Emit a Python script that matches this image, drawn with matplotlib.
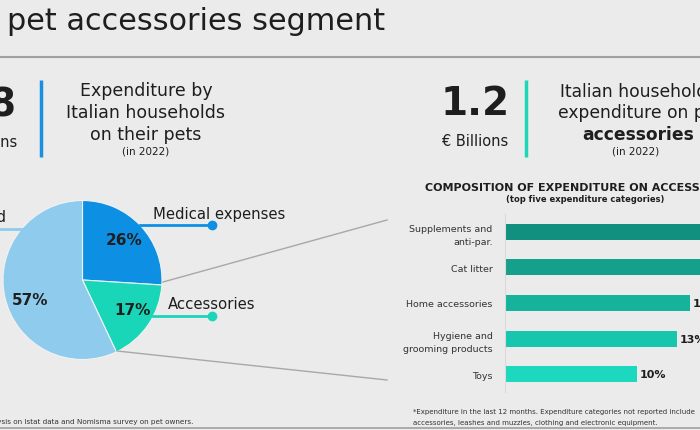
import matplotlib
matplotlib.use("Agg")
import matplotlib.pyplot as plt

plt.rcParams['font.family'] = ['DejaVu Sans']

# ---- data ----
pie_labels = ["Medical expenses", "Accessories", "Food"]
pie_values = [26, 17, 57]
pie_colors = ["#0D8FE3", "#1AD6B8", "#8FCBEC"]

bar_categories = ["Supplements and\nanti-par.", "Cat litter", "Home accessories",
                  "Hygiene and\ngrooming products", "Toys"]
bar_values = [18, 16, 14, 13, 10]
bar_colors = ["#12907F", "#15A08C", "#16B39C", "#18C6AD", "#1CD8BE"]

BG = "#EBEBEB"
TXT = "#1E1E1E"
W, H = 700, 431

fig = plt.figure(figsize=(7, 4.31), dpi=100, facecolor=BG)

# overlay in pixel coordinates (top-left origin)
ov = fig.add_axes([0, 0, 1, 1], zorder=0)
ov.set_xlim(0, W); ov.set_ylim(H, 0); ov.axis('off')
ov.patch.set_alpha(0)

# header
ov.text(7, 30, "pet accessories segment", fontsize=21.8, color=TXT, ha='left', va='baseline')
ov.plot([0, W], [58, 58], color="#A0A0A0", lw=1.5)
ov.plot([0, W], [429, 429], color="#A0A0A0", lw=1.2)

# left KPI block
ov.text(-18, 117, "3.8", fontsize=28, fontweight='bold', color=TXT, ha='center', va='baseline')
ov.text(-16, 147, "€ Billions", fontsize=10.5, color=TXT, ha='center', va='baseline')
ov.plot([41, 41], [81, 158], color="#1A8FE0", lw=2.5, solid_capstyle='butt')
for yb, s in [(96, "Expenditure by"), (118, "Italian households"), (140, "on their pets")]:
    ov.text(146, yb, s, fontsize=12.5, color=TXT, ha='center', va='baseline')
ov.text(146, 155, "(in 2022)", fontsize=7.5, color=TXT, ha='center', va='baseline')

# right KPI block
ov.text(475, 115, "1.2", fontsize=28, fontweight='bold', color=TXT, ha='center', va='baseline')
ov.text(475, 146, "€ Billions", fontsize=10.5, color=TXT, ha='center', va='baseline')
ov.plot([526, 526], [81, 158], color="#1DD6B8", lw=2.5, solid_capstyle='butt')
ov.text(640, 97, "Italian households'", fontsize=12.3, color=TXT, ha='center', va='baseline')
ov.text(640, 118, "expenditure on pet", fontsize=12.3, color=TXT, ha='center', va='baseline')
ov.text(638, 140, "accessories", fontsize=12.3, fontweight='bold', color=TXT, ha='center', va='baseline')
ov.text(636, 155, "(in 2022)", fontsize=7.5, color=TXT, ha='center', va='baseline')

# pie leader lines
ov.plot([140, 212], [226, 226], color=pie_colors[0], lw=2)
ov.plot([212], [226], 'o', color=pie_colors[0], ms=6)
ov.plot([153, 212], [317, 317], color=pie_colors[1], lw=2)
ov.plot([212], [317], 'o', color=pie_colors[1], ms=6)
ov.plot([0, 22], [230, 230], color=pie_colors[2], lw=2)
ov.text(153, 219, pie_labels[0], fontsize=10.7, color=TXT, ha='left', va='baseline')
ov.text(168, 309, pie_labels[1], fontsize=10.7, color=TXT, ha='left', va='baseline')
ov.text(6, 222, pie_labels[2], fontsize=10.7, color=TXT, ha='right', va='baseline')

# connector lines
ov.plot([163, 387], [283, 221], color="#A8A8A8", lw=1)
ov.plot([117, 387], [352, 381], color="#A8A8A8", lw=1)

# bar chart titles
ov.text(425, 191, "COMPOSITION OF EXPENDITURE ON ACCESSORIES*", fontsize=8.0,
        fontweight='bold', color=TXT, ha='left', va='baseline')
ov.text(585, 202, "(top five expenditure categories)", fontsize=6.0,
        fontweight='bold', color=TXT, ha='center', va='baseline')

# footnotes
ov.text(193, 424, "Source: Nomisma analysis on Istat data and Nomisma survey on pet owners.",
        fontsize=5.2, color="#333333", ha='right', va='baseline')
ov.text(413, 414, "*Expenditure in the last 12 months. Expenditure categories not reported include",
        fontsize=5.05, color="#333333", ha='left', va='baseline')
ov.text(413, 425, "accessories, leashes and muzzles, clothing and electronic equipment.",
        fontsize=5.05, color="#333333", ha='left', va='baseline')

# ---- pie ----
cx, cy, r = 82.5, 281, 79.5
pax = fig.add_axes([(cx - r) / W, 1 - (cy + r) / H, 2 * r / W, 2 * r / H], zorder=2)
wedges, _ = pax.pie(pie_values, colors=pie_colors, startangle=90, counterclock=False,
                    radius=1, wedgeprops=dict(edgecolor="#F2F2F2", linewidth=0.8))
pax.set_xlim(-1, 1); pax.set_ylim(-1, 1); pax.set_aspect('equal'); pax.axis('off')
pct_pos = [(124, 241), (133, 311), (30, 301)]
for (px, py), v in zip(pct_pos, pie_values):
    ov.text(px, py, f"{v}%", fontsize=11, fontweight='bold', color=TXT,
            ha='center', va='center', zorder=5)
ov.set_zorder(3)

# ---- bars ----
x0, scale = 505, 13.2
top, bot = 215, 393
bax = fig.add_axes([x0 / W, 1 - bot / H, (W - x0) / W, (bot - top) / H], zorder=2)
bax.patch.set_alpha(0)
ypos = list(range(len(bar_categories)))
bax.barh(ypos, bar_values, height=0.45, color=bar_colors)
bax.set_xlim(0, (W - x0) / scale)
bax.set_ylim(len(bar_categories) - 0.5, -0.5)
bax.set_yticks(ypos)
bax.set_yticklabels(bar_categories, fontsize=6.8, color="#333333", ha='right',
                    linespacing=1.6)
bax.tick_params(axis='y', length=0, pad=9)
bax.set_xticks([])
for s in ['top', 'right', 'bottom']:
    bax.spines[s].set_visible(False)
bax.spines['left'].set_color("#DADADA")
bax.spines['left'].set_linewidth(0.8)
for y, v in zip(ypos, bar_values):
    bax.text(v + 0.2, y, f"{v}%", fontsize=8, fontweight='bold', color=TXT,
             ha='left', va='center')

fig.savefig("out.png", dpi=100, facecolor=BG)
